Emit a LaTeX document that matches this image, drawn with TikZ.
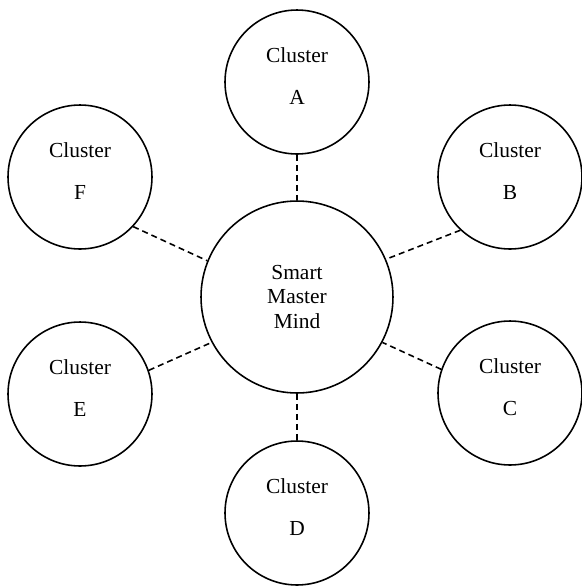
\documentclass[tikz,border=0pt]{standalone}
\usepackage{fontspec}
\setmainfont{Liberation Serif}
\usepackage{tikz}

\begin{document}
\begin{tikzpicture}[x=0.02cm,y=-0.02cm,
  cluster/.style={draw,circle,line width=0.9pt,minimum size=2.88cm,inner sep=0pt,align=center,font=\fontsize{12.2}{14}\selectfont,text depth=6.8pt},
  mind/.style={draw,circle,line width=0.9pt,minimum size=3.84cm,inner sep=0pt,align=center,font=\fontsize{12.2}{13.7}\selectfont},
  link/.style={dash pattern=on 3.4pt off 2.3pt,line width=0.9pt}]
\useasboundingbox (0,0) rectangle (582,586);
\node (mind) [mind] at (297,297) {Smart\\Master\\Mind};
\node (clA) [cluster] at (297,82) {Cluster\\[9.5pt]A};
\node (clB) [cluster] at (510,177) {Cluster\\[9.5pt]B};
\node (clC) [cluster] at (510,393) {Cluster\\[9.5pt]C};
\node (clD) [cluster] at (297,513) {Cluster\\[9.5pt]D};
\node (clE) [cluster] at (80,394) {Cluster\\[9.5pt]E};
\node (clF) [cluster] at (80,177) {Cluster\\[9.5pt]F};

% dashed links to the centre
\draw [link] (clA.south) -- (mind.north);
\draw [link] (clB.227) -- (mind.23);
\draw [link] (clC.161) -- (mind.-28);
\draw [link] (mind.south) -- (clD.north);
\draw [link] (clE.19) -- (mind.208);
\draw [link] (clF.-43) -- (mind.158);
\end{tikzpicture}
\end{document}
